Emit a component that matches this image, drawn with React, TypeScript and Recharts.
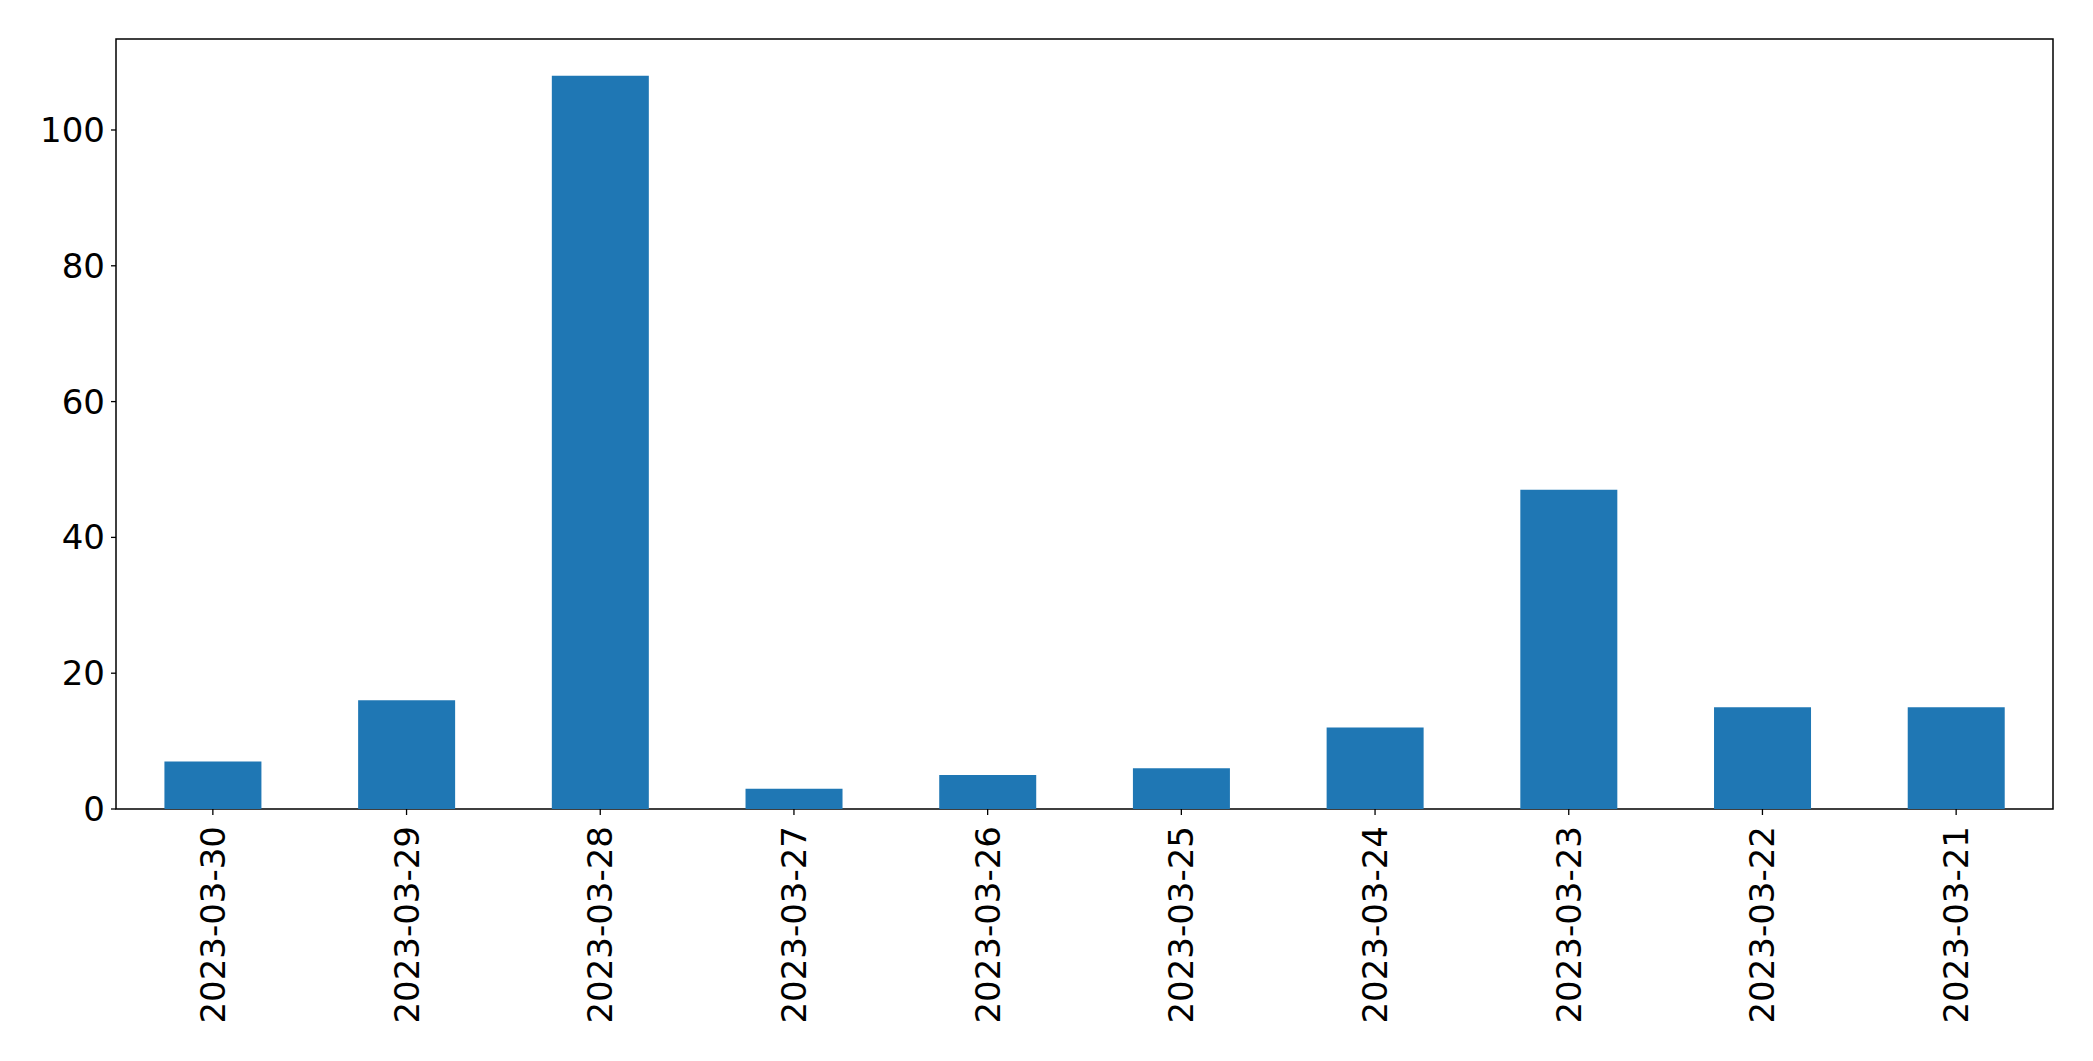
import { Bar, BarChart, ReferenceArea, XAxis, YAxis } from "recharts";

const dates = [
  "2023-03-30",
  "2023-03-29",
  "2023-03-28",
  "2023-03-27",
  "2023-03-26",
  "2023-03-25",
  "2023-03-24",
  "2023-03-23",
  "2023-03-22",
  "2023-03-21",
];
const counts = [7, 16, 108, 3, 5, 6, 12, 47, 15, 15];
const yTicks = [0, 20, 40, 60, 80, 100];
const yMax = 113.4;

const data = dates.map((date, i) => ({ date, count: counts[i] }));

const FONT = "'DejaVu Sans', sans-serif";

function DateTick(props: any) {
  const { x, y, payload } = props;
  return (
    <text
      transform={`translate(${x},${y + 9}) rotate(-90)`}
      textAnchor="end"
      dominantBaseline="central"
      fontSize={34}
      fontFamily={FONT}
      fill="#000"
    >
      {payload.value}
    </text>
  );
}

export default function App() {
  return (
    <div style={{ position: "absolute", left: 0, top: 0, background: "#fff" }}>
      <BarChart
        width={2093}
        height={1061}
        data={data}
        margin={{ top: 39, right: 40, bottom: 0, left: 0 }}
        barCategoryGap="25%"
      >
        <ReferenceArea
          y1={0}
          y2={yMax}
          fill="none"
          stroke="#000"
          strokeWidth={1.5}
          ifOverflow="visible"
        />
        <XAxis
          dataKey="date"
          height={252}
          axisLine={false}
          tickLine={{ stroke: "#000", strokeWidth: 1.3 }}
          tickSize={6}
          interval={0}
          tick={<DateTick />}
        />
        <YAxis
          width={116}
          domain={[0, yMax]}
          ticks={yTicks}
          axisLine={false}
          tickLine={{ stroke: "#000", strokeWidth: 1.3 }}
          tickSize={5}
          tickMargin={6}
          tick={{ fontSize: 34, fontFamily: FONT, fill: "#000" }}
        />
        <Bar dataKey="count" fill="#1f77b4" isAnimationActive={false} />
      </BarChart>
    </div>
  );
}
